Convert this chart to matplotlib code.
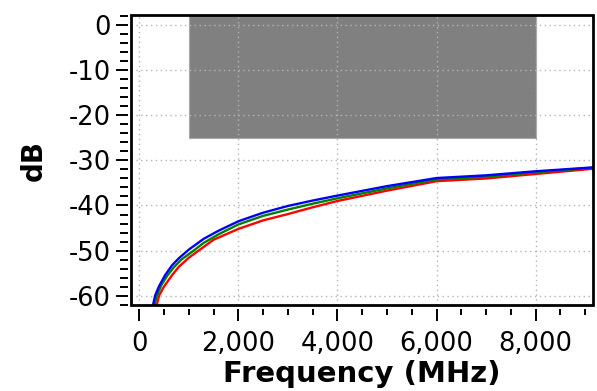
import numpy as np
import matplotlib
matplotlib.use('Agg')
import matplotlib.pyplot as plt
from matplotlib.ticker import MultipleLocator, FuncFormatter
from matplotlib.patches import Rectangle

plt.rcParams['font.family'] = 'DejaVu Sans'
plt.rcParams['axes.unicode_minus'] = False

# traces: frequency (MHz) and level (dB)
blue_f = [280, 320, 400, 520, 660, 800, 1000, 1300, 1600, 2000, 2500,
          3000, 3500, 4000, 5000, 6000, 7000, 8000, 9200]
blue_db = [-62.0, -60.0, -57.9, -55.5, -53.3, -51.7, -49.8, -47.4, -45.6,
           -43.5, -41.6, -40.1, -38.9, -37.8, -35.7, -33.9, -33.3, -32.4, -31.5]

green_f = [310, 350, 450, 570, 700, 850, 1100, 1300, 1600, 2000, 2500,
           3000, 3500, 4000, 5000, 6000, 7000, 8000, 9200]
green_db = [-62.0, -60.2, -57.6, -55.5, -53.7, -52.0, -50.0, -48.3, -46.4,
            -44.2, -42.3, -40.9, -39.6, -38.4, -36.2, -34.2, -33.6, -32.6, -31.6]

red_f = [355, 400, 500, 660, 800, 1000, 1200, 1500, 2000, 2500,
         3000, 3500, 4000, 5000, 6000, 7000, 8000, 9200]
red_db = [-62.0, -60.0, -58.0, -55.5, -53.6, -51.6, -50.0, -47.6, -45.2,
          -43.3, -41.9, -40.4, -39.0, -36.7, -34.6, -34.0, -33.0, -31.8]

# limit mask region
mask_f = [1000, 8000]
mask_top = -25

fig = plt.figure(figsize=(5.97, 3.91), dpi=100)
ax = fig.add_axes([0.2194, 0.2199, 0.7739, 0.7417])

# gray mask
ax.fill_between(mask_f, mask_top, 10, color='#808080', edgecolor='#a8a8a8',
                linewidth=0.8, zorder=1)

ax.plot(red_f, red_db, color='#ff0000', lw=1.7, zorder=3)
ax.plot(green_f, green_db, color='#008000', lw=1.7, zorder=3)
ax.plot(blue_f, blue_db, color='#0000ff', lw=1.7, zorder=3)

ax.set_xlim(-167, 9156)
ax.set_ylim(-62.1, 2.3)

ax.xaxis.set_major_locator(MultipleLocator(2000))
ax.xaxis.set_minor_locator(MultipleLocator(500))
ax.yaxis.set_major_locator(MultipleLocator(10))
ax.yaxis.set_minor_locator(MultipleLocator(2))
ax.xaxis.set_major_formatter(FuncFormatter(lambda v, p: f'{v:,.0f}'))
ax.yaxis.set_major_formatter(FuncFormatter(lambda v, p: f'{v:.0f}'))

ax.grid(True, which='major', color='#b4b4b4', linestyle=(0, (1, 2.5)), linewidth=1.0)

# ticks sit a little away from the frame
for s in ['top', 'right']:
    ax.spines[s].set_visible(False)
ax.spines['left'].set_position(('outward', 2.2))
ax.spines['bottom'].set_position(('outward', 3.2))
ax.spines['left'].set_visible(False)
ax.spines['bottom'].set_visible(False)

ax.tick_params(which='major', length=8.6, width=1.4, labelsize=18.5, color='black')
ax.tick_params(which='minor', length=5.5, width=1.4, color='black')
ax.tick_params(axis='y', which='major', pad=3.5)
ax.tick_params(axis='x', which='major', pad=7)
ax.tick_params(axis='x', which='minor', length=4.5)

frame = Rectangle((0, 0), 1, 1, transform=ax.transAxes, fill=False,
                  edgecolor='black', linewidth=2.0, clip_on=False, zorder=10)
ax.add_patch(frame)

ax.set_xlabel('Frequency (MHz)', fontsize=21, fontweight='bold', labelpad=2)
ax.set_ylabel('dB', fontsize=20, fontweight='bold', labelpad=15)

plt.savefig('out.png', dpi=100)
